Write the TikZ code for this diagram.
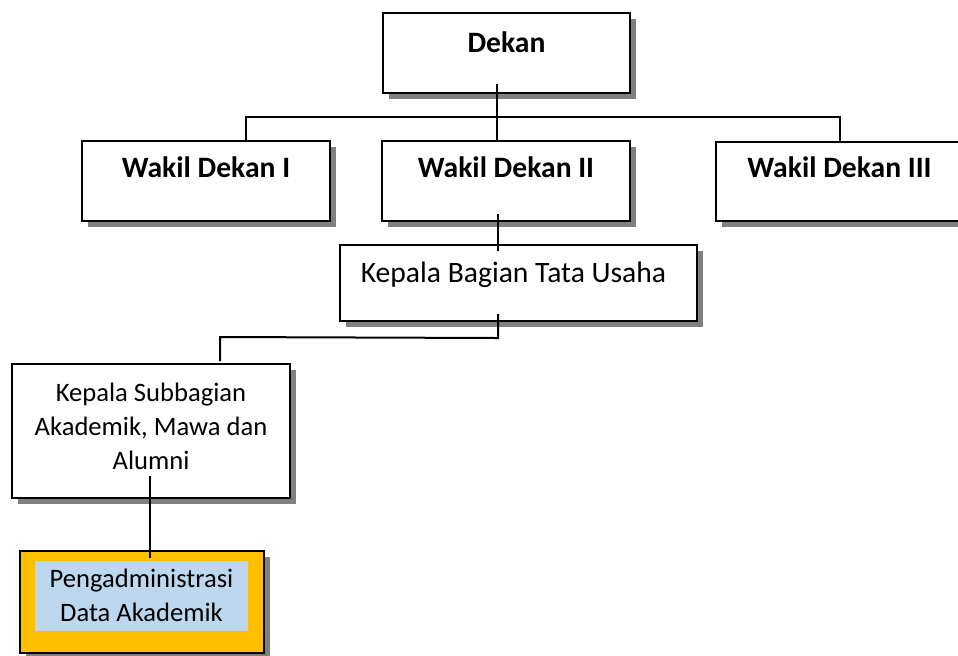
\documentclass[tikz,border=0pt]{standalone}
\usepackage{fontspec}
\setmainfont{Carlito}
\usetikzlibrary{fit,calc,shadows}
\definecolor{orgorange}{HTML}{FFC000}
\definecolor{orgblue}{HTML}{BDD7EE}
\tikzset{
  orgbox/.style={draw=black, line width=1pt, fill=white, inner sep=0pt,
    drop shadow={shadow xshift=3pt, shadow yshift=-3pt, fill=black!50, opacity=1}},
  hilitebox/.style={orgbox, fill=orgorange},
  innerbox/.style={fill=orgblue, draw=none, inner sep=0pt},
  lbl/.style={inner sep=0pt, font=\fontsize{14.8}{17}\selectfont, align=center},
  slbl/.style={lbl, font=\fontsize{13.3}{17}\selectfont},
  blbl/.style={lbl, font=\fontsize{14.8}{17}\selectfont\bfseries},
  conn/.style={draw=black, line width=1pt},
}
\begin{document}
\begin{tikzpicture}[x=0.5pt,y=-0.5pt]
\useasboundingbox (0,0) rectangle (958,655);
% boxes
\node[orgbox, fit={(383,13) (630,93)}] (dekan) {};
\node[orgbox, fit={(82,141) (330,221)}] (wd1) {};
\node[orgbox, fit={(382,141) (630,221)}] (wd2) {};
\node[orgbox, fit={(716,142) (963,221)}] (wd3) {};
\node[orgbox, fit={(340,245) (697,321)}] (kbtu) {};
\node[orgbox, fit={(12,364) (290,498)}] (ks) {};
\node[hilitebox, fit={(20,551) (264,653)}] (peng) {};
\node[innerbox, fit={(35,561) (248,631)}] (penginner) {};
% labels
\node[blbl, anchor=base] at ($(dekan.north)+(0,40)$) {Dekan};
\node[blbl, anchor=base] at ($(wd1.north)+(0,37)$) {Wakil Dekan I};
\node[blbl, anchor=base] at ($(wd2.north)+(0,37)$) {Wakil Dekan II};
\node[blbl, anchor=base] at ($(wd3.north)+(0,36)$) {Wakil Dekan III};
\node[lbl, anchor=base] at ($(kbtu.north)+(-5,38)$) {Kepala Bagian Tata Usaha};
\node[slbl, anchor=base] at ($(ks.north)+(0,106)$) {Kepala Subbagian\\Akademik, Mawa dan\\Alumni};
\node[slbl, anchor=base] at ($(penginner.north)+(0,61)$) {Pengadministrasi\\Data Akademik};
% connectors
\draw[conn] ($(dekan.south)+(-9.5,-10)$) -- ($(wd2.north)+(-9,0)$);
\draw[conn] (wd1.north -| 246,0) -- (246,117) -- (840,117) -- (wd3.north -| 840,0);
\draw[conn] ($(wd2.south)+(-8,-8)$) -- ($(kbtu.north)+(-20.5,7)$);
\draw[conn] ($(kbtu.south)+(-20.5,-8)$) -- ($(kbtu.south)+(-20.5,16)$) -- (220,337) -- ($(ks.north)+(69,-2)$);
\draw[conn] ($(ks.south)+(-1,-23)$) -- ($(peng.north)+(8,8)$);
\end{tikzpicture}
\end{document}
